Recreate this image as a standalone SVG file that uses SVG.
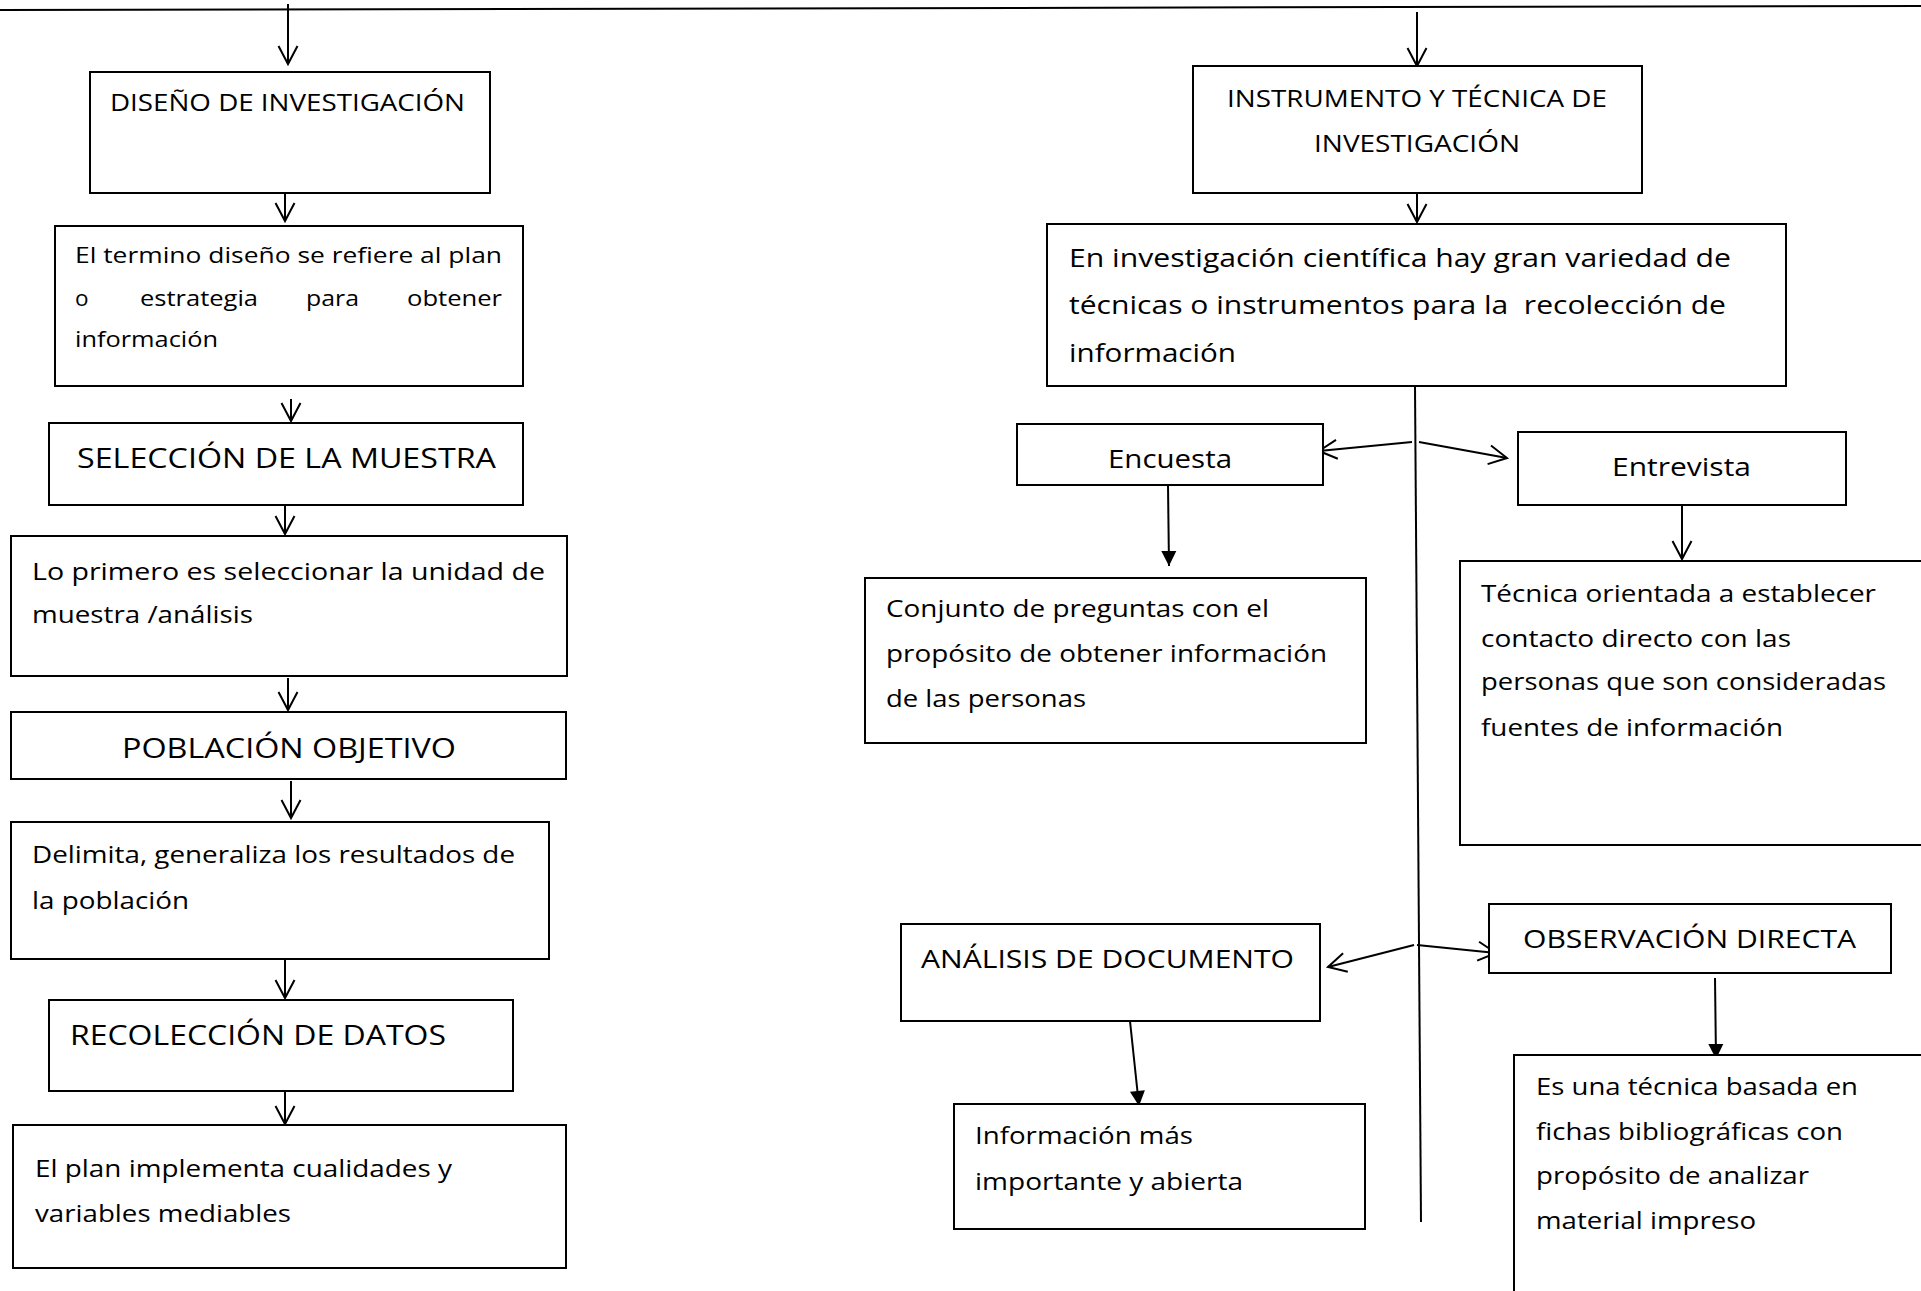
<svg xmlns="http://www.w3.org/2000/svg" width="1921" height="1291" viewBox="0 0 1921 1291">
<defs>
<style>
.box{fill:#fff;stroke:#000;stroke-width:2}
.t{font-family:"Open Sans","Liberation Sans",sans-serif;fill:#000}
.s11{font-size:22.5px}
.s12{font-size:24.5px}
.s13{font-size:26.3px}
.s14{font-size:28px}
.c{fill:none;stroke:#000;stroke-width:2}
.o{marker-end:url(#open)}
.f{marker-end:url(#fill)}
</style>
<marker id="open" markerUnits="userSpaceOnUse" markerWidth="22" markerHeight="22" refX="18" refY="9.5" orient="auto" overflow="visible">
<path d="M0,0 L18,9.5 L0,19" fill="none" stroke="#000" stroke-width="2"/>
</marker>
<marker id="fill" markerUnits="userSpaceOnUse" markerWidth="16" markerHeight="16" refX="15" refY="7.5" orient="auto" overflow="visible">
<path d="M0,0 L15,7.5 L0,15 Z" fill="#000"/>
</marker>
</defs>
<rect width="1921" height="1291" fill="#fff"/>

<g id="connectors">
<line class="c" x1="0" y1="10" x2="1921" y2="6"/>
<line class="c o" x1="288" y1="4" x2="288" y2="64"/>
<line class="c o" x1="285" y1="191" x2="285" y2="221"/>
<line class="c o" x1="291" y1="399" x2="291" y2="421"/>
<line class="c o" x1="285" y1="497" x2="285" y2="534"/>
<line class="c o" x1="288" y1="678" x2="288" y2="710"/>
<line class="c o" x1="291" y1="781" x2="291" y2="818"/>
<line class="c o" x1="285" y1="959" x2="285" y2="998"/>
<line class="c o" x1="285" y1="1091" x2="285" y2="1124"/>
<line class="c o" x1="1417" y1="12" x2="1417" y2="66"/>
<line class="c o" x1="1417" y1="193" x2="1417" y2="222"/>
<line class="c" x1="1415" y1="386" x2="1421" y2="1222"/>
<line class="c o" x1="1412" y1="442" x2="1319" y2="451"/>
<line class="c o" x1="1419" y1="442" x2="1507" y2="458"/>
<line class="c f" x1="1168" y1="485" x2="1169" y2="566"/>
<line class="c o" x1="1682" y1="505" x2="1682" y2="559"/>
<line class="c o" x1="1414" y1="945" x2="1328" y2="967"/>
<line class="c o" x1="1417" y1="945" x2="1496" y2="953"/>
<line class="c f" x1="1130" y1="1021" x2="1139" y2="1106"/>
<line class="c f" x1="1715" y1="978" x2="1716" y2="1059"/>
</g>

<g id="diseno">
<rect class="box" x="90" y="72" width="400" height="121"/>
<text class="t s12" x="110" y="111" textLength="355" lengthAdjust="spacingAndGlyphs">DISEÑO DE INVESTIGACIÓN</text>
</g>

<g id="termino">
<rect class="box" x="55" y="226" width="468" height="160"/>
<text class="t s11" x="75" y="263" textLength="427" lengthAdjust="spacingAndGlyphs">El termino diseño se refiere al plan</text>
<text class="t s11" x="75" y="306">o</text>
<text class="t s11" x="140" y="306" textLength="118" lengthAdjust="spacingAndGlyphs">estrategia</text>
<text class="t s11" x="306" y="306" textLength="53" lengthAdjust="spacingAndGlyphs">para</text>
<text class="t s11" x="407" y="306" textLength="95" lengthAdjust="spacingAndGlyphs">obtener</text>
<text class="t s11" x="75" y="347" textLength="143" lengthAdjust="spacingAndGlyphs">información</text>
</g>

<g id="seleccion">
<rect class="box" x="49" y="423" width="474" height="82"/>
<text class="t s14" x="77" y="468" textLength="419" lengthAdjust="spacingAndGlyphs">SELECCIÓN DE LA MUESTRA</text>
</g>

<g id="primero">
<rect class="box" x="11" y="536" width="556" height="140"/>
<text class="t s12" x="32" y="580" textLength="513" lengthAdjust="spacingAndGlyphs">Lo primero es seleccionar la unidad de</text>
<text class="t s12" x="32" y="623" textLength="221" lengthAdjust="spacingAndGlyphs">muestra /análisis</text>
</g>

<g id="poblacion">
<rect class="box" x="11" y="712" width="555" height="67"/>
<text class="t s14" x="122" y="758" textLength="334" lengthAdjust="spacingAndGlyphs">POBLACIÓN OBJETIVO</text>
</g>

<g id="delimita">
<rect class="box" x="11" y="822" width="538" height="137"/>
<text class="t s12" x="32" y="863" textLength="483" lengthAdjust="spacingAndGlyphs">Delimita, generaliza los resultados de</text>
<text class="t s12" x="32" y="909" textLength="157" lengthAdjust="spacingAndGlyphs">la población</text>
</g>

<g id="recoleccion">
<rect class="box" x="49" y="1000" width="464" height="91"/>
<text class="t s14" x="70" y="1045" textLength="376" lengthAdjust="spacingAndGlyphs">RECOLECCIÓN DE DATOS</text>
</g>

<g id="plan">
<rect class="box" x="13" y="1125" width="553" height="143"/>
<text class="t s12" x="35" y="1177" textLength="417" lengthAdjust="spacingAndGlyphs">El plan implementa cualidades y</text>
<text class="t s12" x="35" y="1222" textLength="256" lengthAdjust="spacingAndGlyphs">variables mediables</text>
</g>

<g id="instrumento">
<rect class="box" x="1193" y="66" width="449" height="127"/>
<text class="t s12" x="1227" y="107" textLength="380" lengthAdjust="spacingAndGlyphs">INSTRUMENTO Y TÉCNICA DE</text>
<text class="t s12" x="1314" y="152" textLength="206" lengthAdjust="spacingAndGlyphs">INVESTIGACIÓN</text>
</g>

<g id="cientifica">
<rect class="box" x="1047" y="224" width="739" height="162"/>
<text class="t s13" x="1069" y="267" textLength="662" lengthAdjust="spacingAndGlyphs">En investigación científica hay gran variedad de</text>
<text class="t s13" x="1069" y="314" textLength="657" lengthAdjust="spacingAndGlyphs" xml:space="preserve">técnicas o instrumentos para la  recolección de</text>
<text class="t s13" x="1069" y="362" textLength="167" lengthAdjust="spacingAndGlyphs">información</text>
</g>

<g id="encuesta">
<rect class="box" x="1017" y="424" width="306" height="61"/>
<text class="t s13" x="1108" y="468" textLength="124" lengthAdjust="spacingAndGlyphs">Encuesta</text>
</g>

<g id="entrevista">
<rect class="box" x="1518" y="432" width="328" height="73"/>
<text class="t s13" x="1612" y="476" textLength="139" lengthAdjust="spacingAndGlyphs">Entrevista</text>
</g>

<g id="conjunto">
<rect class="box" x="865" y="578" width="501" height="165"/>
<text class="t s12" x="886" y="617" textLength="383" lengthAdjust="spacingAndGlyphs">Conjunto de preguntas con el</text>
<text class="t s12" x="886" y="662" textLength="441" lengthAdjust="spacingAndGlyphs">propósito de obtener información</text>
<text class="t s12" x="886" y="707" textLength="200" lengthAdjust="spacingAndGlyphs">de las personas</text>
</g>

<g id="tecnica">
<rect class="box" x="1460" y="561" width="470" height="284"/>
<text class="t s12" x="1481" y="602" textLength="395" lengthAdjust="spacingAndGlyphs">Técnica orientada a establecer</text>
<text class="t s12" x="1481" y="647" textLength="310" lengthAdjust="spacingAndGlyphs">contacto directo con las</text>
<text class="t s12" x="1481" y="690" textLength="405" lengthAdjust="spacingAndGlyphs">personas que son consideradas</text>
<text class="t s12" x="1481" y="736" textLength="302" lengthAdjust="spacingAndGlyphs">fuentes de información</text>
</g>

<g id="analisis">
<rect class="box" x="901" y="924" width="419" height="97"/>
<text class="t s13" x="921" y="968" textLength="373" lengthAdjust="spacingAndGlyphs">ANÁLISIS DE DOCUMENTO</text>
</g>

<g id="observacion">
<rect class="box" x="1489" y="904" width="402" height="69"/>
<text class="t s13" x="1523" y="948" textLength="333" lengthAdjust="spacingAndGlyphs">OBSERVACIÓN DIRECTA</text>
</g>

<g id="informacion">
<rect class="box" x="954" y="1104" width="411" height="125"/>
<text class="t s12" x="975" y="1144" textLength="218" lengthAdjust="spacingAndGlyphs">Información más</text>
<text class="t s12" x="975" y="1190" textLength="268" lengthAdjust="spacingAndGlyphs">importante y abierta</text>
</g>

<g id="fichas">
<rect class="box" x="1514" y="1055" width="420" height="250"/>
<text class="t s12" x="1536" y="1095" textLength="322" lengthAdjust="spacingAndGlyphs">Es una técnica basada en</text>
<text class="t s12" x="1536" y="1140" textLength="307" lengthAdjust="spacingAndGlyphs">fichas bibliográficas con</text>
<text class="t s12" x="1536" y="1184" textLength="273" lengthAdjust="spacingAndGlyphs">propósito de analizar</text>
<text class="t s12" x="1536" y="1229" textLength="220" lengthAdjust="spacingAndGlyphs">material impreso</text>
</g>
</svg>
